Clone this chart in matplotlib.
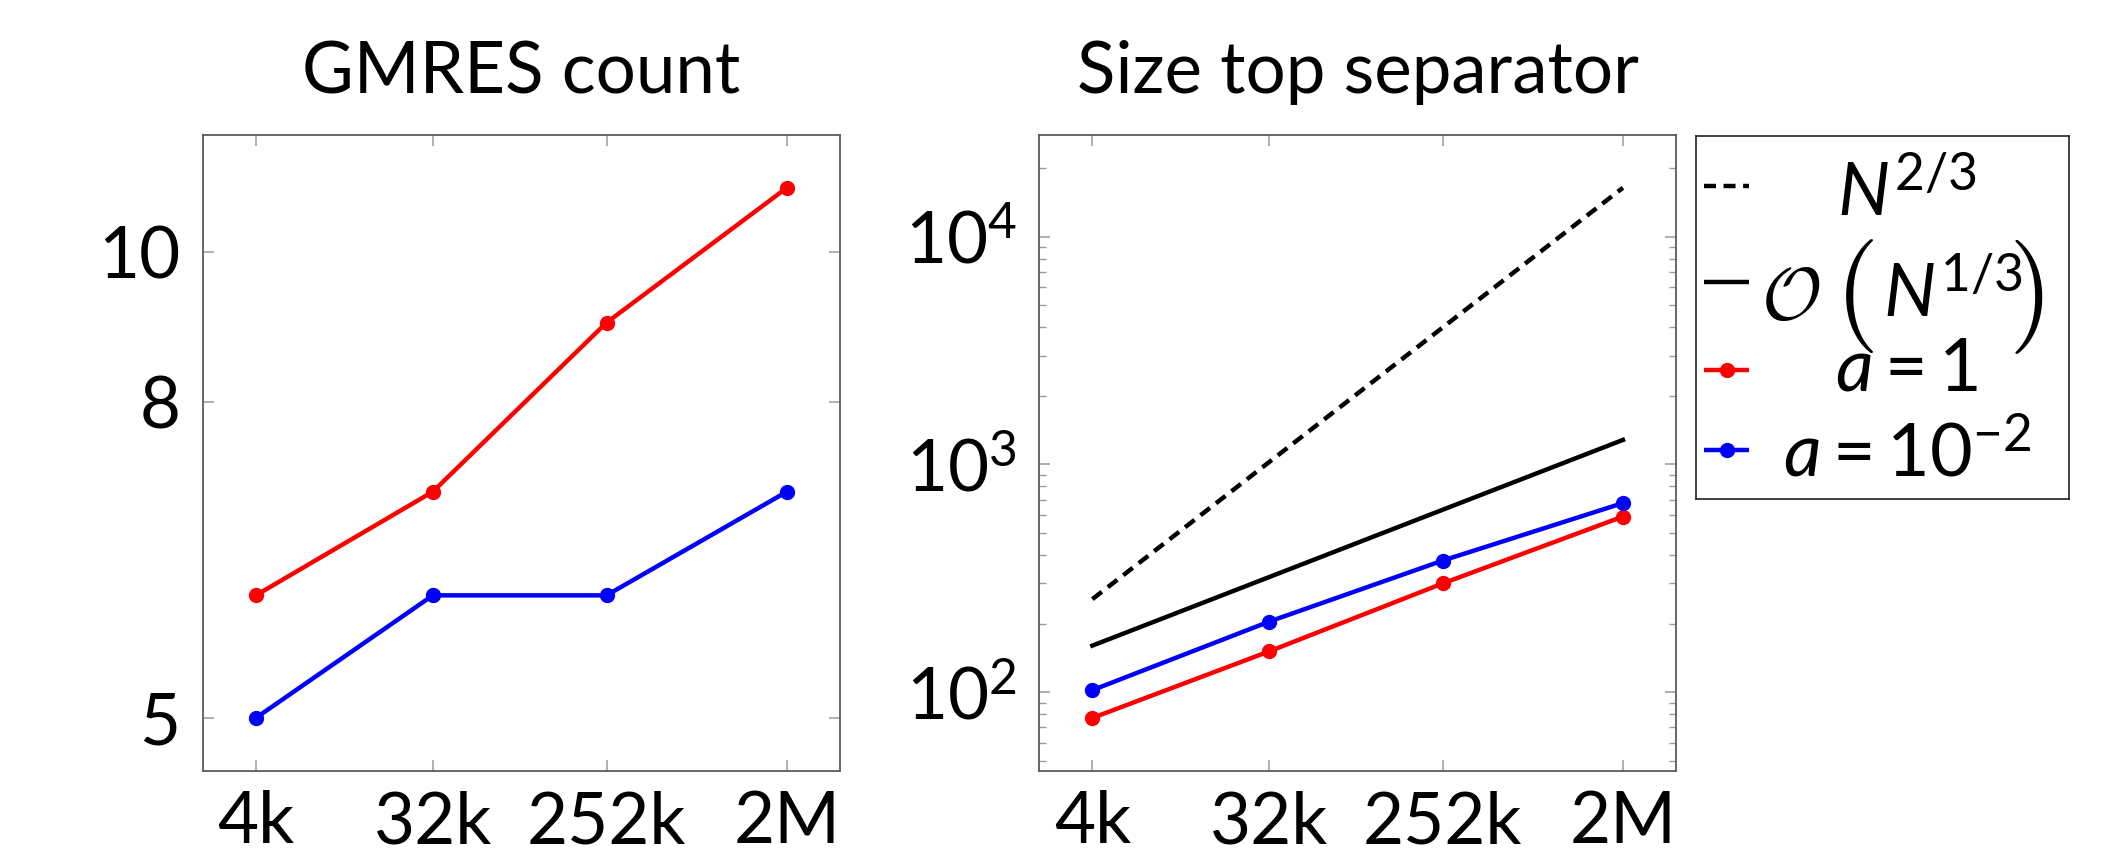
import matplotlib
matplotlib.use("Agg")
import matplotlib.pyplot as plt
from matplotlib.ticker import NullLocator, FixedLocator, FixedFormatter, LogLocator
import numpy as np

plt.rcParams["font.family"] = ["Lato", "DejaVu Sans"]
plt.rcParams["mathtext.fontset"] = "custom"
plt.rcParams["mathtext.rm"] = "Lato"
plt.rcParams["mathtext.it"] = "Lato:italic"
plt.rcParams["mathtext.cal"] = "cmsy10"

# problem sizes (degrees of freedom) and their labels
sizes = [4096, 32768, 252000, 2097152]
size_labels = ["4k", "32k", "252k", "2M"]

# GMRES iteration counts
gmres_a1 = [6, 7, 9, 11]
gmres_a1e2 = [5, 6, 6, 7]

# size of the top separator
sep_a1 = [77, 151, 300, 590]
sep_a1e2 = [102, 204, 378, 676]
ref_two_thirds = [256, 1024, 3990, 16384]
ref_one_third = [160, 320, 632, 1280]

RED = "#ff0000"
BLUE = "#0000ff"
SPINE = "#5a5a5a"
TICK = "#9a9a9a"
FS = 51
LW = 3.2
MS = 10
DASH = (0, (2.7, 1.7))

W, H = 2113, 859
fig = plt.figure(figsize=(W / 100, H / 100), dpi=100)


def px_axes(x0, x1, ytop, ybot):
    return fig.add_axes([x0 / W, 1 - ybot / H, (x1 - x0) / W, (ybot - ytop) / H])


def log_limits(vals, frac=0.1):
    lv = np.log10(vals)
    lo, hi = lv.min(), lv.max()
    pad = frac * (hi - lo)
    return 10 ** (lo - pad), 10 ** (hi + pad)


def style(ax):
    for s in ax.spines.values():
        s.set_color(SPINE)
        s.set_linewidth(1.3)
    ax.tick_params(which="both", direction="in", top=True, bottom=True,
                   left=True, right=True, color=TICK, labelsize=FS)
    ax.tick_params(which="major", length=8, width=1.1)
    ax.tick_params(which="minor", length=5, width=1.0)
    ax.tick_params(axis="x", pad=14)
    ax.tick_params(axis="y", pad=16)
    ax.set_xscale("log")
    ax.set_xlim(*log_limits(np.array(sizes, float)))
    ax.xaxis.set_major_locator(FixedLocator(sizes))
    ax.xaxis.set_major_formatter(FixedFormatter(size_labels))
    ax.xaxis.set_minor_locator(NullLocator())


line_kw = dict(lw=LW, marker="o", markersize=MS)

# left panel: GMRES count
ax1 = px_axes(202.7, 840, 134.7, 771)
style(ax1)
ax1.plot(sizes, gmres_a1, color=RED, **line_kw)
ax1.plot(sizes, gmres_a1e2, color=BLUE, **line_kw)
ax1.set_yscale("log")
ax1.set_ylim(*log_limits(np.array(gmres_a1 + gmres_a1e2, float)))
ax1.yaxis.set_major_locator(FixedLocator([5, 8, 10]))
ax1.yaxis.set_major_formatter(FixedFormatter(["5", "8", "10"]))
ax1.yaxis.set_minor_locator(NullLocator())
ax1.set_title("GMRES count", fontsize=FS, pad=30)

# right panel: separator size
ax2 = px_axes(1039.3, 1676, 134.7, 771)
style(ax2)
ax2.plot(sizes, ref_two_thirds, color="black", lw=LW, linestyle=DASH)
ax2.plot(sizes, ref_one_third, color="black", lw=LW)
ax2.plot(sizes, sep_a1, color=RED, **line_kw)
ax2.plot(sizes, sep_a1e2, color=BLUE, **line_kw)
ax2.set_yscale("log")
ax2.set_ylim(*log_limits(np.array(sep_a1 + sep_a1e2 + ref_two_thirds + ref_one_third, float)))
ax2.yaxis.set_major_locator(LogLocator(base=10))
ax2.yaxis.set_minor_locator(LogLocator(base=10, subs=np.arange(2, 10)))
ax2.set_title("Size top separator", fontsize=FS, pad=30)

# legend box with centred entries
lg = px_axes(1695.7, 2069, 135.7, 499)
lg.set_xlim(1695.7, 2069)
lg.set_ylim(499, 135.7)
lg.set_xticks([])
lg.set_yticks([])
for s in lg.spines.values():
    s.set_color("#222222")
    s.set_linewidth(1.2)

samples = [
    (dict(color="black", lw=LW, linestyle=DASH), False, 185.7),
    (dict(color="black", lw=LW), False, 282),
    (dict(color=RED, lw=LW), True, 370),
    (dict(color=BLUE, lw=LW), True, 450),
]
for kw, mark, ly in samples:
    lg.plot([1704, 1749], [ly, ly], solid_capstyle="butt", **kw)
    if mark:
        lg.plot([1726.5], [ly], marker="o", markersize=MS, color=kw["color"])

LFS = 53
lg.text(1907, 216.7, r"$N^{2/3}$", fontsize=LFS, ha="center", va="baseline")
lg.text(1761, 319, r"$\mathcal{O}$", fontsize=LFS, ha="left", va="baseline")
lg.text(1857, 296, "(", fontsize=82, family="cmr10", ha="center", va="center")
lg.text(1883, 318, r"$N^{1/3}$", fontsize=LFS, ha="left", va="baseline")
lg.text(2031, 296, ")", fontsize=82, family="cmr10", ha="center", va="center")
lg.text(1907, 390.7, r"$a = 1$", fontsize=LFS, ha="center", va="baseline")
lg.text(1907, 477, r"$a = 10^{-2}$", fontsize=LFS, ha="center", va="baseline")

fig.savefig("out.png", dpi=100)
